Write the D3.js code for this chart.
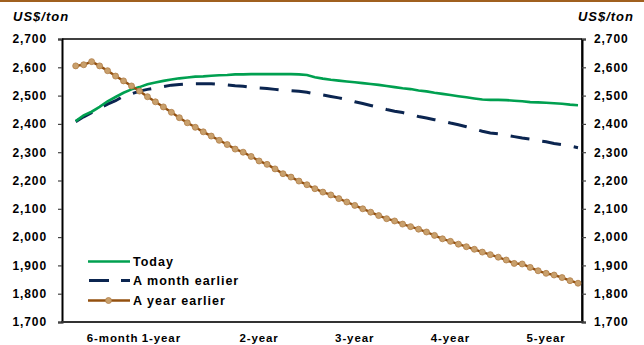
<!DOCTYPE html>
<html>
<head>
<meta charset="utf-8">
<script src="https://cdn.jsdelivr.net/npm/d3@7/dist/d3.min.js"></script>
<style>
html,body{margin:0;padding:0;background:#fff;}
svg{display:block;font-family:"Liberation Sans",Arial,sans-serif;}
</style>
</head>
<body>
<svg id="chart" width="644" height="345"></svg>
<script>
// ---- data ----
const contractMonths = d3.range(1, 65); // monthly forward contracts
const xTickLabels = ["6-month", "1-year", "2-year", "3-year", "4-year", "5-year"];
const xTickMonths = [6, 12, 24, 36, 48, 60];
const yTicks = [1700, 1800, 1900, 2000, 2100, 2200, 2300, 2400, 2500, 2600, 2700];
const seriesNames = ["Today", "A month earlier", "A year earlier"];
const today = [2410,2430,2443,2460,2480,2495,2510,2522,2530,2540,2546,2552,2557,2561,2564,2567,
  2568,2570,2572,2573,2575,2575,2576,2576,2576,2576,2576,2576,2575,2573,2565,2560,
  2556,2553,2550,2547,2544,2541,2538,2534,2530,2526,2523,2518,2515,2510,2506,2502,
  2498,2494,2490,2486,2485,2485,2484,2482,2480,2477,2476,2475,2473,2471,2468,2466];
const monthEarlier = [2408,2425,2440,2455,2470,2482,2498,2506,2516,2522,2527,2532,2537,2539,2541,2542,
  2542,2542,2540,2538,2535,2533,2529,2527,2525,2522,2519,2517,2515,2512,2506,2502,
  2497,2492,2486,2478,2472,2465,2458,2451,2445,2440,2433,2426,2421,2415,2410,2403,
  2397,2390,2382,2374,2368,2365,2360,2355,2350,2346,2341,2337,2331,2327,2322,2316];
const yearEarlier = [2605,2609,2620,2605,2588,2569,2552,2534,2516,2496,2478,2460,2441,2422,2404,2388,
  2372,2357,2342,2327,2311,2300,2285,2269,2257,2241,2224,2212,2198,2185,2171,2159,
  2149,2136,2124,2112,2100,2088,2076,2065,2057,2046,2037,2028,2018,2006,1994,1985,
  1975,1966,1957,1947,1938,1929,1919,1907,1905,1893,1881,1872,1866,1857,1846,1837];

// ---- layout ----
const svg = d3.select("#chart");
const L = 62, R = 582, T = 39, B = 322;
const colGreen = "#00a050", colNavy = "#0b2550", colBrown = "#93500f", colMarker = "#c9a06c";

const x = d3.scaleLinear().domain([1, 64]).range([75.7, 578]);
const y = d3.scaleLinear().domain([1700, 2700]).range([B, T]);

// top decorative line
svg.append("rect").attr("x", 0).attr("y", 0).attr("width", 644).attr("height", 2).attr("fill", "#a0601f");

// units
svg.append("text").attr("x", 13).attr("y", 21).text("US$/ton")
  .attr("font-size", 13).attr("font-weight", "bold").attr("font-style", "italic")
  .attr("letter-spacing", 1).attr("fill", "#000");
svg.append("text").attr("x", 634).attr("y", 21).attr("text-anchor", "end").text("US$/ton")
  .attr("font-size", 13).attr("font-weight", "bold").attr("font-style", "italic")
  .attr("letter-spacing", 1).attr("fill", "#000");

// frame
svg.append("line").attr("x1", L).attr("x2", R).attr("y1", T).attr("y2", T).attr("stroke", "#000").attr("stroke-width", 1.5);
svg.append("line").attr("x1", R).attr("x2", R).attr("y1", T).attr("y2", B).attr("stroke", "#000").attr("stroke-width", 1.5);

// axes
const axL = svg.append("g").attr("transform", `translate(${L},0)`)
  .call(d3.axisLeft(y).tickValues(yTicks).tickSize(4).tickPadding(11).tickFormat(d3.format(",")));
const axR = svg.append("g").attr("transform", `translate(${R},0)`)
  .call(d3.axisRight(y).tickValues(yTicks).tickSize(4).tickPadding(8).tickFormat(d3.format(",")));
[axL, axR].forEach(a => {
  a.select(".domain").attr("stroke", "#000").attr("stroke-width", 2);
  a.selectAll(".tick line").attr("stroke", "#444").attr("stroke-width", 1.2);
  a.selectAll(".tick text").attr("font-size", 12).attr("font-weight", "bold")
    .attr("letter-spacing", 0.9).attr("fill", "#000")
    .attr("font-family", "'Liberation Sans',Arial,sans-serif");
});
svg.append("line").attr("x1", L - 1).attr("x2", R + 1).attr("y1", B).attr("y2", B)
  .attr("stroke", "#333").attr("stroke-width", 2.2);

// x labels
const labelNudge = [-3, -2, 0, 0, 0, 0];
svg.append("g").selectAll("text").data(xTickLabels).join("text")
  .attr("x", (d, i) => x(xTickMonths[i]) + labelNudge[i])
  .attr("y", 342).attr("text-anchor", "middle").text(d => d)
  .attr("font-size", 11.5).attr("font-weight", "bold").attr("letter-spacing", 0.9).attr("fill", "#000");

// lines
const line = d3.line().x((d, i) => x(contractMonths[i])).y(d => y(d));
svg.append("path").datum(monthEarlier).attr("d", line).attr("fill", "none")
  .attr("stroke", colNavy).attr("stroke-width", 3).attr("stroke-dasharray", "19,13");
svg.append("path").datum(today).attr("d", line).attr("fill", "none")
  .attr("stroke", colGreen).attr("stroke-width", 2.6);
svg.append("path").datum(yearEarlier).attr("d", line).attr("fill", "none")
  .attr("stroke", colBrown).attr("stroke-width", 2.4);
svg.append("g").selectAll("circle").data(yearEarlier).join("circle")
  .attr("cx", (d, i) => x(contractMonths[i])).attr("cy", d => y(d)).attr("r", 3)
  .attr("fill", colMarker).attr("stroke", "#b07d48").attr("stroke-width", 0.8);

// legend
const legY = [261.5, 280.5, 300.5];
const leg = svg.append("g");
leg.append("line").attr("x1", 88).attr("x2", 130).attr("y1", legY[0]).attr("y2", legY[0])
  .attr("stroke", colGreen).attr("stroke-width", 2.6);
leg.append("line").attr("x1", 89).attr("x2", 130).attr("y1", legY[1]).attr("y2", legY[1])
  .attr("stroke", colNavy).attr("stroke-width", 3).attr("stroke-dasharray", "20,12");
leg.append("line").attr("x1", 88).attr("x2", 130).attr("y1", legY[2]).attr("y2", legY[2])
  .attr("stroke", colBrown).attr("stroke-width", 2.4);
leg.append("circle").attr("cx", 108.5).attr("cy", legY[2]).attr("r", 3)
  .attr("fill", colMarker).attr("stroke", "#b07d48").attr("stroke-width", 0.8);
leg.selectAll("text").data(seriesNames).join("text")
  .attr("x", 133).attr("y", (d, i) => legY[i] + 4.5).text(d => d)
  .attr("font-size", 12.5).attr("font-weight", "bold").attr("letter-spacing", 1).attr("fill", "#000");
</script>
</body>
</html>
